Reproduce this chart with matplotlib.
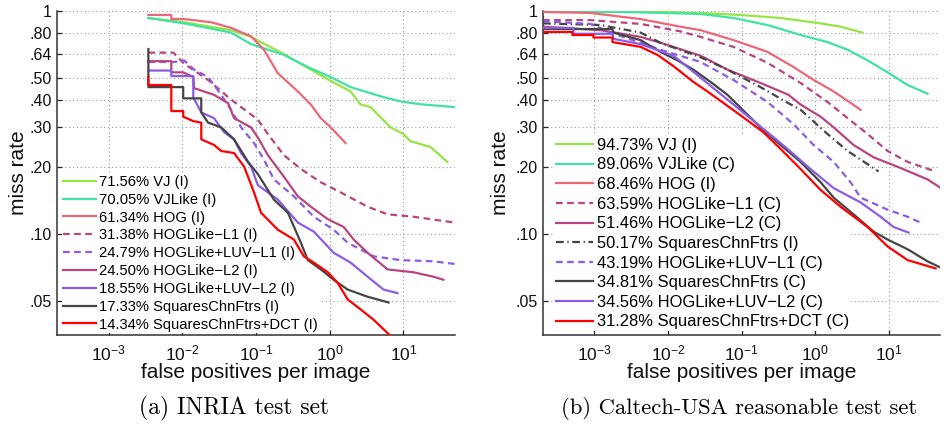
import matplotlib
matplotlib.use("Agg")
import matplotlib.pyplot as plt
from matplotlib.ticker import FixedLocator, FixedFormatter, NullLocator

plt.rcParams['font.family'] = ['Liberation Sans', 'DejaVu Sans']
plt.rcParams['mathtext.fontset'] = 'custom'
plt.rcParams['mathtext.rm'] = 'Liberation Sans'
plt.rcParams['mathtext.it'] = 'Liberation Sans'
plt.rcParams['mathtext.default'] = 'regular'

# ---------------- data: (a) INRIA ----------------
inria_vj_x = [.00347, .0106, .0459, .0856, .239, .504, 1.03, 1.92, 2.62, 3.58, 6.67, 10, 12.4, 23.2, 39.3]
inria_vj_y = [.93, .89, .82, .765, .64, .555, .485, .435, .38, .37, .30, .28, .26, .245, .21]
inria_vjlike_x = [.00347, .0106, .0459, .0856, .239, .504, 1.03, 1.92, 5.37, 10, 18.6, 50]
inria_vjlike_y = [.93, .88, .80, .71, .635, .56, .505, .455, .41, .39, .38, .37]
inria_hog_x = [.00347, .0071, .0071, .0106, .0247, .0459, .0856, .128, .198, .370, .554, .756, 1.03, 1.64]
inria_hog_y = [.96, .96, .92, .92, .89, .84, .77, .67, .525, .435, .38, .33, .30, .255]
inria_hl1_x = [.00347, .00756, .0106, .0224, .0459, .106, .145, .239, .406, .756, 1.41, 3.26, 6.08, 13.6, 50]
inria_hl1_y = [.65, .65, .58, .49, .40, .325, .28, .225, .195, .17, .153, .132, .122, .119, .112]
inria_hluv1_x = [.00347, .0078, .0106, .0145, .0224, .0337, .0459, .0627, .094, .128, .175, .326, .608, 1.13, 1.75, 3.93, 9.1, 25.4, 50]
inria_hluv1_y = [.59, .59, .60, .545, .505, .42, .36, .30, .255, .215, .175, .147, .119, .104, .091, .079, .076, .075, .073]
inria_hl2_x = [.00347, .0071, .0071, .0103, .0141, .0145, .027, .0419, .0504, .0856, .106, .145, .239, .370, .554, .940, 1.55, 2.11, 3.26, 6.08, 13.6, 25.4, 34.7]
inria_hl2_y = [.595, .595, .53, .53, .505, .45, .42, .385, .33, .30, .27, .225, .18, .147, .132, .116, .107, .094, .082, .069, .067, .064, .062]
inria_hluv2_x = [.00347, .0071, .0071, .0141, .0141, .0181, .027, .037, .0504, .0627, .0856, .106, .198, .370, .608, 1.13, 1.92, 3.26, 5.37, 8.29]
inria_hluv2_y = [.54, .54, .51, .51, .41, .35, .33, .285, .265, .23, .20, .165, .142, .112, .102, .082, .074, .064, .056, .054]
inria_sq_x = [.00347, .00347, .0103, .0103, .0181, .0181, .0224, .0337, .0504, .078, .106, .175, .271, .406, .504, .756, 1.13, 1.75, 3.26, 6.27]
inria_sq_y = [.675, .455, .455, .405, .405, .35, .315, .30, .265, .21, .185, .142, .124, .091, .076, .069, .062, .056, .052, .049]
inria_dct_x = [.00347, .00347, .0071, .0071, .0103, .0103, .0141, .0181, .0181, .027, .0337, .0504, .0689, .094, .117, .198, .326, .445, .608, .940, 1.28, 1.75, 2.62, 3.93, 7.10]
inria_dct_y = [.505, .465, .465, .355, .355, .335, .32, .315, .265, .25, .235, .23, .20, .153, .124, .104, .094, .079, .074, .067, .060, .0506, .0456, .041, .034]

inria_labels = ['71.56% VJ (I)', '70.05% VJLike (I)', '61.34% HOG (I)',
                '31.38% HOGLike\u2212L1 (I)', '24.79% HOGLike+LUV\u2212L1 (I)',
                '24.50% HOGLike\u2212L2 (I)', '18.55% HOGLike+LUV\u2212L2 (I)',
                '17.33% SquaresChnFtrs (I)', '14.34% SquaresChnFtrs+DCT (I)']

# ---------------- data: (b) Caltech-USA ----------------
cal_vj_x = [.0002, .00423, .0277, .0968, .340, 1.19, 2.22, 4.43]
cal_vj_y = [.995, .995, .98, .96, .93, .88, .85, .80]
cal_vjlike_x = [.0002, .00226, .00869, .0277, .0778, .226, .635, 1.48, 2.77, 5.18, 9.69, 18.1, 33.9]
cal_vjlike_y = [.995, .99, .98, .97, .93, .865, .78, .725, .67, .60, .53, .465, .425]
cal_hog_x = [.0002, .000883, .00423, .0148, .0277, .0778, .226, .510, .955, 1.79, 4.16]
cal_hog_y = [.99, .98, .92, .85, .82, .74, .655, .56, .49, .435, .36]
cal_hl1_x = [.0002, .000883, .00423, .0148, .0277, .0778, .226, .635, 1.48, 2.77, 5.18, 9.69, 18.1, 43.5]
cal_hl1_y = [.91, .91, .875, .81, .765, .69, .585, .475, .39, .33, .28, .235, .21, .19]
cal_hl2_x = [.0002, .00121, .00423, .0079, .0277, .0645, .181, .436, .635, 1.19, 1.79, 3.34, 6.25, 14.6, 33.9, 50]
cal_hl2_y = [.85, .82, .765, .72, .63, .545, .475, .42, .38, .335, .30, .25, .22, .197, .175, .161]
cal_sqi_x = [.0002, .00121, .00423, .0079, .0277, .0645, .181, .436, .635, 1.48, 2.77, 5.18, 7.31]
cal_sqi_y = [.88, .865, .80, .72, .62, .545, .455, .385, .36, .28, .235, .205, .19]
cal_hluv1_x = [.0002, .000883, .00165, .00423, .0079, .0277, .0778, .226, .510, .955, 1.79, 3.04, 4.16, 9.69, 18.1, 27.2]
cal_hluv1_y = [.90, .875, .80, .72, .67, .59, .49, .39, .31, .25, .21, .17, .145, .128, .119, .112]
cal_sq_x = [.0002, .0002, .00176, .00181, .00423, .0079, .0135, .0222, .0379, .0645, .181, .340, .635, 1.19, 1.79, 3.34, 6.25, 9.69, 18.1, 33.9, 50]
cal_sq_y = [.94, .83, .83, .80, .74, .655, .60, .545, .48, .42, .30, .25, .21, .17, .145, .122, .102, .094, .085, .075, .0705]
cal_hluv2_x = [.0002, .000518, .000518, .00176, .00181, .00423, .0119, .0252, .0471, .0778, .226, .423, .868, 1.79, 4.16, 7.78, 11.7, 18.7]
cal_hluv2_y = [.84, .84, .79, .79, .75, .71, .63, .515, .435, .38, .285, .24, .195, .16, .138, .119, .107, .101]
cal_dct_x = [.0002, .000502, .000502, .000969, .000969, .00176, .00176, .00423, .0072, .0119, .0222, .0344, .0968, .199, .340, .635, 1.19, 2.22, 5.18, 9.69, 18.1, 43.5]
cal_dct_y = [.805, .805, .78, .78, .76, .76, .725, .69, .635, .565, .48, .435, .34, .285, .24, .195, .157, .132, .107, .0875, .076, .0697]

cal_labels = ['94.73% VJ (I)', '89.06% VJLike (C)', '68.46% HOG (I)',
              '63.59% HOGLike\u2212L1 (C)', '51.46% HOGLike\u2212L2 (C)',
              '50.17% SquaresChnFtrs (I)', '43.19% HOGLike+LUV\u2212L1 (C)',
              '34.81% SquaresChnFtrs (C)', '34.56% HOGLike+LUV\u2212L2 (C)',
              '31.28% SquaresChnFtrs+DCT (C)']

y_ticks = [.05, .10, .20, .30, .40, .50, .64, .80, 1]
y_ticklabels = ['.05', '.10', '.20', '.30', '.40', '.50', '.64', '.80', '1']
x_ticks = [1e-3, 1e-2, 1e-1, 1e0, 1e1]
x_ticklabels = ['$10^{\u22123}$', '$10^{\u22122}$', '$10^{\u22121}$', '$10^{0}$', '$10^{1}$']

# ---------------- styles ----------------
C_VJ = '#97e444'
C_VJL = '#3fe3a2'
C_HOG = '#ec6878'
C_HL = '#b9457f'
C_LUV = '#8b5de6'
C_SQ = '#454545'
C_DCT = '#ff0000'
DASH = (0, (3.0, 2.0))
DASHDOT = (0, (3.5, 1.6, 0.6, 1.6))
LW = 1.6

inria_series = [
    (inria_vj_x, inria_vj_y, C_VJ, '-'),
    (inria_vjlike_x, inria_vjlike_y, C_VJL, '-'),
    (inria_hog_x, inria_hog_y, C_HOG, '-'),
    (inria_hl1_x, inria_hl1_y, C_HL, DASH),
    (inria_hluv1_x, inria_hluv1_y, C_LUV, DASH),
    (inria_hl2_x, inria_hl2_y, C_HL, '-'),
    (inria_hluv2_x, inria_hluv2_y, C_LUV, '-'),
    (inria_sq_x, inria_sq_y, C_SQ, '-'),
    (inria_dct_x, inria_dct_y, C_DCT, '-'),
]
cal_series = [
    (cal_vj_x, cal_vj_y, C_VJ, '-'),
    (cal_vjlike_x, cal_vjlike_y, C_VJL, '-'),
    (cal_hog_x, cal_hog_y, C_HOG, '-'),
    (cal_hl1_x, cal_hl1_y, C_HL, DASH),
    (cal_hl2_x, cal_hl2_y, C_HL, '-'),
    (cal_sqi_x, cal_sqi_y, C_SQ, DASHDOT),
    (cal_hluv1_x, cal_hluv1_y, C_LUV, DASH),
    (cal_sq_x, cal_sq_y, C_SQ, '-'),
    (cal_hluv2_x, cal_hluv2_y, C_LUV, '-'),
    (cal_dct_x, cal_dct_y, C_DCT, '-'),
]

W, H = 949, 424
fig = plt.figure(figsize=(W / 100, H / 100), dpi=100)


def px_rect(x0, x1, ytop, ybot):
    return [x0 / W, 1 - ybot / H, (x1 - x0) / W, (ybot - ytop) / H]


def setup(ax, series, labels, leg_anchor, leg_fs, leg_sp, leg_pad):
    ax.set_xscale('log')
    ax.set_yscale('log')
    ax.set_xlim(2e-4, 50)
    ax.set_ylim(0.035, 1)
    ax.set_axisbelow(True)
    for xs, ys, c, ls in series:
        ax.plot(xs, ys, color=c, linestyle=ls, linewidth=LW, zorder=3)
    ax.xaxis.set_major_locator(FixedLocator(x_ticks))
    ax.xaxis.set_major_formatter(FixedFormatter(x_ticklabels))
    ax.yaxis.set_major_locator(FixedLocator(y_ticks))
    ax.yaxis.set_major_formatter(FixedFormatter(y_ticklabels))
    ax.xaxis.set_minor_locator(NullLocator())
    ax.yaxis.set_minor_locator(NullLocator())
    ax.tick_params(direction='in', length=3.5, width=0.9, color='#222222',
                   labelcolor='#111111')
    ax.tick_params(axis='x', pad=6, labelsize=12.5)
    ax.tick_params(axis='y', pad=4, labelsize=11.5)
    ax.spines['top'].set_visible(False)
    ax.spines['right'].set_visible(False)
    for s in ('left', 'bottom'):
        ax.spines[s].set_linewidth(1.1)
        ax.spines[s].set_color('#333333')
    ax.grid(True, which='major', linestyle=(0, (1, 2.5)), color='#9a9a9a', linewidth=0.8)
    leg = ax.legend(labels, loc='lower left', bbox_to_anchor=leg_anchor,
                    frameon=True, fontsize=leg_fs, handlelength=2.25,
                    handletextpad=leg_pad, labelspacing=leg_sp, borderpad=0.1,
                    borderaxespad=0)
    leg.get_frame().set_edgecolor('none')
    leg.get_frame().set_facecolor('white')
    leg.get_frame().set_alpha(1)
    leg.set_zorder(2)


axL = fig.add_axes(px_rect(57, 455, 11, 335))
setup(axL, inria_series, inria_labels, (0.0116, 0.006), 10.6, 0.26, 0.21)
axR = fig.add_axes(px_rect(543, 940, 11, 335))
setup(axR, cal_series, cal_labels, (0.029, 0.012), 11.9, 0.28, 0.25)

for xc in (18, 500):
    fig.text(xc / W, 1 - 173 / H, 'miss rate', rotation=90, ha='center', va='center',
             fontsize=15, color='#111111')
for xc in (256, 742):
    fig.text(xc / W, 1 - 373 / H, 'false positives per image', ha='center', va='center',
             fontsize=15, color='#111111')
fig.text(234 / W, 1 - 408 / H, '(a) INRIA test set', ha='center', va='center',
         fontsize=17, family='cmr10')
fig.text(739 / W, 1 - 408 / H, '(b) Caltech-USA reasonable test set', ha='center', va='center',
         fontsize=16.3, family='cmr10')

fig.savefig('out.png', dpi=100)
